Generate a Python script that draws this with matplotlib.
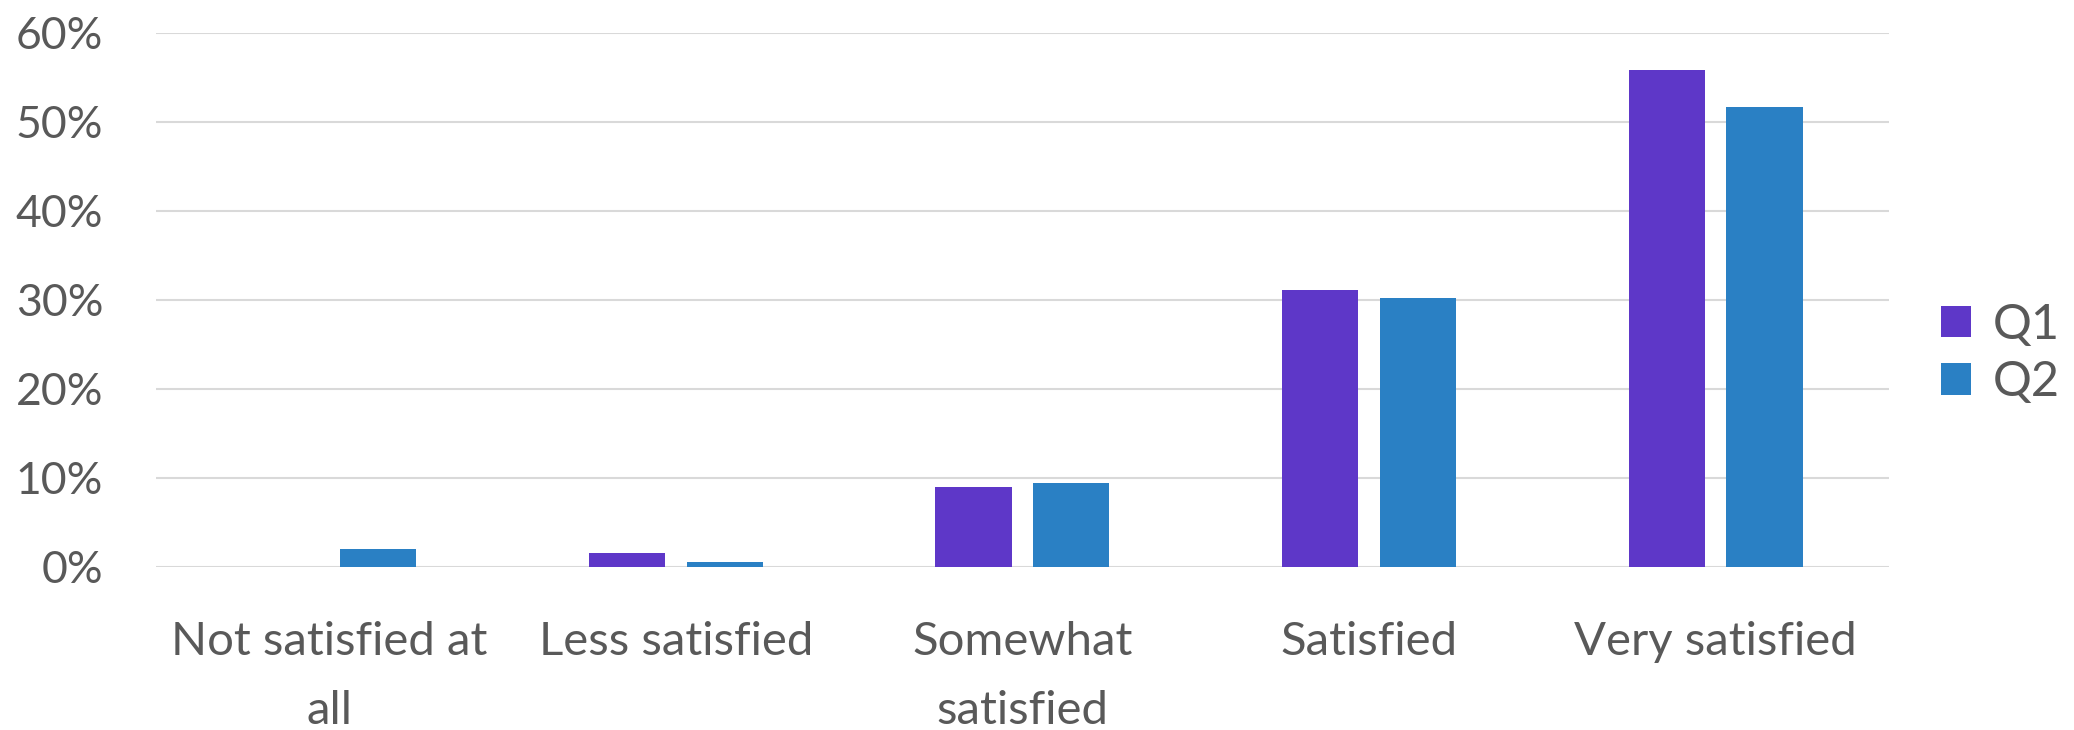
import matplotlib.pyplot as plt
import numpy as np
from matplotlib.ticker import PercentFormatter

categories = ["Not satisfied at\nall", "Less satisfied", "Somewhat\nsatisfied",
              "Satisfied", "Very satisfied"]
q1 = [0.0, 1.6, 9.0, 31.1, 55.8]
q2 = [2.0, 0.6, 9.4, 30.2, 51.7]
series_names = ["Q1", "Q2"]

plt.rcParams['font.family'] = ['Lato', 'DejaVu Sans']
grey = '#595959'

fig = plt.figure(figsize=(20.74, 7.3), dpi=100)
ax = fig.add_axes([0.0752, 0.2233, 0.8356, 0.7315])

x = np.arange(len(categories))
w = 0.22
ax.bar(x - 0.141, q1, width=w, color='#5E37C8', label=series_names[0], zorder=3)
ax.bar(x + 0.141, q2, width=w, color='#2A80C4', label=series_names[1], zorder=3)

ax.set_xlim(-0.5, len(categories) - 0.5)
ax.set_ylim(0, 60)
ax.set_yticks(range(0, 61, 10))
ax.yaxis.set_major_formatter(PercentFormatter(decimals=0))
ax.grid(axis='y', color='#d9d9d9', linewidth=1.5, zorder=0)
ax.set_xticks(x)
ax.set_xticklabels(categories, linespacing=1.8)
for s in ['top', 'right', 'left', 'bottom']:
    ax.spines[s].set_visible(False)
ax.tick_params(axis='both', length=0, labelcolor=grey)
ax.tick_params(axis='y', labelsize=32, pad=38)
ax.tick_params(axis='x', labelsize=34, pad=39)

leg = ax.legend(loc='center left', bbox_to_anchor=(1.03, 0.40), frameon=False,
                fontsize=35, handlelength=0.62, handleheight=0.62,
                handletextpad=0.45, labelspacing=0.28, borderpad=0,
                borderaxespad=0)
for t in leg.get_texts():
    t.set_color(grey)

fig.savefig('out.png', dpi=100)
